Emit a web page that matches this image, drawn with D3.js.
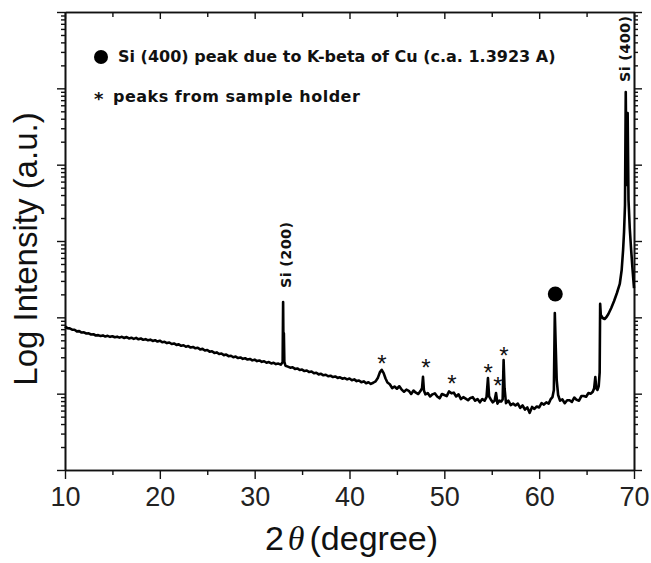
<!DOCTYPE html>
<html>
<head>
<meta charset="utf-8">
<script src="https://cdn.jsdelivr.net/npm/d3@7"></script>
<style>
  body { margin: 0; background: #fff; }
  svg { display: block; }
</style>
</head>
<body>
<div id="chart"></div>
<script>
// XRD scan, 2theta (deg) vs counts
const scanLow = [
  [10.0, 760], [10.25, 722], [10.5, 716], [10.75, 690], [11.0, 688], [11.25, 655], [11.5, 660], [11.75, 632],
  [12.0, 636], [12.25, 615], [12.5, 618], [12.75, 596], [13.0, 600], [13.25, 578], [13.5, 585], [13.75, 570],
  [14.0, 580], [14.25, 560], [14.5, 572], [14.75, 555], [15.0, 566], [15.25, 548], [15.5, 558], [15.75, 542],
  [16.0, 555], [16.25, 536], [16.5, 552], [16.75, 530], [17.0, 541], [17.25, 522], [17.5, 538], [17.75, 516],
  [18.0, 528], [18.25, 508], [18.5, 518], [18.75, 500], [19.0, 510], [19.25, 490], [19.5, 502], [19.75, 482],
  [20.0, 494], [20.25, 472], [20.5, 478], [20.75, 460], [21.0, 468], [21.25, 447], [21.5, 455], [21.75, 436],
  [22.0, 442], [22.25, 424], [22.5, 431], [22.75, 412], [23.0, 420], [23.25, 402], [23.5, 409], [23.75, 393],
  [24.0, 400], [24.25, 380], [24.5, 386], [24.75, 368], [25.0, 374], [25.25, 355], [25.5, 360], [25.75, 342],
  [26.0, 347], [26.25, 331], [26.5, 336], [26.75, 320], [27.0, 325], [27.25, 310], [27.5, 314], [27.75, 300],
  [28.0, 306], [28.25, 293], [28.5, 298], [28.75, 286], [29.0, 291], [29.25, 280], [29.5, 285], [29.75, 273],
  [30.0, 279], [30.25, 267], [30.5, 272], [30.75, 261], [31.0, 266], [31.25, 254], [31.5, 259], [31.75, 249],
  [32.0, 254], [32.25, 244], [32.5, 248], [32.75, 240], [32.95, 258], [33.0, 1590], [33.04, 330], [33.08, 620],
  [33.13, 262], [33.25, 232], [33.5, 226], [33.75, 219], [34.0, 222], [34.25, 211], [34.5, 214], [34.75, 204],
  [35.0, 207], [35.25, 198], [35.5, 201], [35.75, 192], [36.0, 195], [36.25, 185], [36.5, 188], [36.75, 179],
  [37.0, 182], [37.25, 174], [37.5, 177], [37.75, 169], [38.0, 172], [38.25, 165], [38.5, 168], [38.75, 161],
  [39.0, 164], [39.25, 157], [39.5, 160], [39.75, 154]
];
const scanHigh = [
  [40.0, 158], [40.25, 150], [40.5, 154], [40.75, 146], [41.0, 149], [41.25, 141], [41.5, 145], [41.75, 137],
  [42.0, 141], [42.25, 134], [42.5, 139], [42.75, 145], [43.0, 162], [43.2, 190], [43.4, 205], [43.6, 186],
  [43.8, 158], [44.0, 140], [44.25, 133], [44.5, 118], [44.75, 124], [45.0, 116], [45.25, 125], [45.5, 113],
  [45.75, 106], [46.0, 113], [46.25, 109], [46.5, 99], [46.75, 110], [47.0, 103], [47.25, 99], [47.5, 109],
  [47.65, 118], [47.75, 166], [47.85, 110], [48.0, 98], [48.25, 102], [48.5, 92], [48.75, 98], [49.0, 101],
  [49.25, 92], [49.5, 87], [49.75, 99], [50.0, 96], [50.25, 93], [50.5, 107], [50.75, 101], [51.0, 103],
  [51.25, 92], [51.5, 98], [51.75, 85], [52.0, 90], [52.25, 86], [52.5, 82], [52.75, 88], [53.0, 90],
  [53.25, 81], [53.5, 85], [53.75, 77], [54.0, 85], [54.25, 81], [54.45, 90], [54.6, 160], [54.72, 92],
  [54.9, 84], [55.1, 77], [55.3, 81], [55.45, 102], [55.6, 74], [55.8, 81], [56.0, 79], [56.15, 84],
  [56.25, 276], [56.35, 118], [56.5, 75], [56.75, 81], [57.0, 71], [57.25, 74], [57.5, 70], [57.75, 74],
  [58.0, 65], [58.25, 70], [58.5, 62], [58.75, 66], [59.0, 56], [59.25, 67], [59.5, 63], [59.75, 68],
  [60.0, 66], [60.25, 75], [60.5, 72], [60.75, 77], [61.0, 74], [61.2, 84], [61.4, 90], [61.55, 112],
  [61.65, 1140], [61.75, 400], [61.85, 150], [62.0, 96], [62.2, 81], [62.45, 84], [62.7, 75], [62.95, 82],
  [63.2, 82], [63.45, 78], [63.7, 89], [63.95, 83], [64.2, 81], [64.45, 93], [64.7, 93], [64.95, 91],
  [65.2, 102], [65.45, 100], [65.65, 106], [65.8, 118], [65.92, 165], [66.02, 118], [66.15, 112], [66.28, 126],
  [66.38, 190], [66.43, 1500], [66.5, 1074], [66.7, 980], [66.9, 951], [67.1, 1010], [67.3, 1106], [67.6, 1325],
  [67.9, 1637], [68.2, 2083], [68.5, 2735], [68.7, 4170], [68.85, 7620], [68.95, 13100], [69.05, 29600],
  [69.13, 895000], [69.22, 54200], [69.33, 475000], [69.42, 34500], [69.55, 14800], [69.7, 7620],
  [69.85, 4170], [70.0, 2420]
];

const xMajorTicks = [10, 20, 30, 40, 50, 60, 70];
const xMinorTicks = [15, 25, 35, 45, 55, 65];
const xDomain = [10, 70];
const yDomain = [10, 1e7];

// asterisks over the sample holder peaks: [2theta, counts]
const holderPeaks = [[43.43, 293], [48.07, 260], [50.81, 160], [54.61, 224], [55.66, 151], [56.29, 373]];
// filled dot over the Cu K-beta Si(400) reflection
const kBetaMark = [61.7, 2020];
const peakLabels = [
  { text: "Si (200)", at: [33.83, 2420] },
  { text: "Si (400)", at: [69.58, 1.21e6] }
];
const notes = ["Si (400) peak due to K-beta of Cu (c.a. 1.3923 A)", "peaks from sample holder"];

const width = 651, height = 563;
const margins = { top: 12, right: 17, bottom: 93, left: 65 };
const innerWidth = width - margins.left - margins.right;
const innerHeight = height - margins.top - margins.bottom;

const svg = d3.select("#chart").append("svg")
  .attr("width", width)
  .attr("height", height);

const mainG = svg.append("g")
  .attr("transform", `translate(${margins.left},${margins.top})`);

const x = d3.scaleLinear().domain(xDomain).range([0, innerWidth]);
const y = d3.scaleLog().domain(yDomain).range([innerHeight, 0]);

const yAll = y.ticks();
const yMajor = yAll.filter((d) => Math.abs(Math.log10(d) - Math.round(Math.log10(d))) < 1e-9);
const yMinor = yAll.filter((d) => !yMajor.includes(d));

// axes: outward ticks on left, bottom, right; inward on top
function styleAxis(g) {
  g.select(".domain").attr("stroke", "#111").attr("stroke-width", 1.6);
  g.selectAll(".tick line").attr("stroke", "#111").attr("stroke-width", 1.4);
}
// tick-only axes: drop the empty label nodes
function tickOnly(g) {
  styleAxis(g);
  g.selectAll(".tick text").remove();
}

mainG.append("g").attr("transform", `translate(0,${innerHeight})`)
  .call(d3.axisBottom(x).tickValues(xMinorTicks).tickSize(5).tickSizeOuter(0))
  .call(tickOnly);
const xAxisG = mainG.append("g").attr("transform", `translate(0,${innerHeight})`)
  .call(d3.axisBottom(x).tickValues(xMajorTicks).tickSize(9).tickSizeOuter(0).tickPadding(8).tickFormat(d3.format("d")))
  .call(styleAxis);
xAxisG.selectAll("text")
  .attr("font-family", "'Liberation Sans', Arial, sans-serif")
  .attr("font-size", "27px")
  .attr("fill", "#222");

mainG.append("g")
  .call(d3.axisBottom(x).tickValues(xMinorTicks).tickSize(5).tickSizeOuter(0))
  .call(tickOnly);
mainG.append("g")
  .call(d3.axisBottom(x).tickValues(xMajorTicks).tickSize(7).tickSizeOuter(0))
  .call(tickOnly);

mainG.append("g")
  .call(d3.axisLeft(y).tickValues(yMinor).tickSize(4).tickSizeOuter(0))
  .call(tickOnly);
mainG.append("g")
  .call(d3.axisLeft(y).tickValues(yMajor).tickSize(8).tickSizeOuter(0))
  .call(tickOnly);

mainG.append("g").attr("transform", `translate(${innerWidth},0)`)
  .call(d3.axisRight(y).tickValues(yMinor).tickSize(4).tickSizeOuter(0))
  .call(tickOnly);
mainG.append("g").attr("transform", `translate(${innerWidth},0)`)
  .call(d3.axisRight(y).tickValues(yMajor).tickSize(8).tickSizeOuter(0))
  .call(tickOnly);

// the scan
const scan = scanLow.concat(scanHigh);
const line = d3.line().x((d) => x(d[0])).y((d) => y(d[1]));
mainG.append("path")
  .datum(scan)
  .attr("fill", "none")
  .attr("stroke", "#000")
  .attr("stroke-width", 2.6)
  .attr("stroke-linejoin", "round")
  .attr("d", line);

// peak annotations
const boldFont = "'DejaVu Sans', 'Open Sans', sans-serif";
mainG.selectAll("text.peak-label")
  .data(peakLabels)
  .join("text")
  .attr("class", "peak-label")
  .attr("transform", (d) => `translate(${x(d.at[0])},${y(d.at[1])}) rotate(-90)`)
  .attr("font-family", boldFont)
  .attr("font-weight", 700)
  .attr("font-size", "14.5px")
  .attr("letter-spacing", "0.3px")
  .attr("fill", "#111")
  .text((d) => d.text);

mainG.selectAll("text.holder")
  .data(holderPeaks)
  .join("text")
  .attr("class", "holder")
  .attr("x", (d) => x(d[0]))
  .attr("y", (d) => y(d[1]))
  .attr("dy", "0.58em")
  .attr("text-anchor", "middle")
  .attr("font-family", "'Liberation Sans', Arial, sans-serif")
  .attr("font-size", "24px")
  .attr("fill", "#111")
  .text("*");

mainG.append("circle")
  .attr("cx", x(kBetaMark[0]))
  .attr("cy", y(kBetaMark[1]))
  .attr("r", 7.5)
  .attr("fill", "#000");

// notes in the upper left
const notesG = svg.append("g").attr("class", "notes")
  .attr("font-family", boldFont).attr("font-weight", 700).attr("font-size", "16px").attr("fill", "#111");
notesG.append("circle").attr("cx", 101).attr("cy", 57).attr("r", 7).attr("fill", "#000");
notesG.append("text").attr("x", 118).attr("y", 62).text(notes[0]);
notesG.append("text").attr("x", 94).attr("y", 105).attr("font-size", "18px").text("*");
notesG.append("text").attr("x", 113).attr("y", 102).attr("letter-spacing", "0.5px").text(notes[1]);

// axis titles
svg.append("text")
  .attr("transform", `translate(37,249) rotate(-90)`)
  .attr("text-anchor", "middle")
  .attr("font-family", "'Liberation Sans', Arial, sans-serif")
  .attr("font-size", "33px")
  .attr("fill", "#111")
  .text("Log Intensity (a.u.)");

const xTitle = svg.append("text")
  .attr("x", margins.left + innerWidth / 2 + 2)
  .attr("y", 550)
  .attr("text-anchor", "middle")
  .attr("font-family", "'Liberation Sans', Arial, sans-serif")
  .attr("font-size", "34px")
  .attr("fill", "#111");
xTitle.append("tspan").text("2");
xTitle.append("tspan").attr("font-family", "'Liberation Serif', 'Times New Roman', serif").attr("font-style", "italic").attr("dx", 4).text("θ");
xTitle.append("tspan").attr("dx", 5).text("(degree)");
</script>
</body>
</html>
